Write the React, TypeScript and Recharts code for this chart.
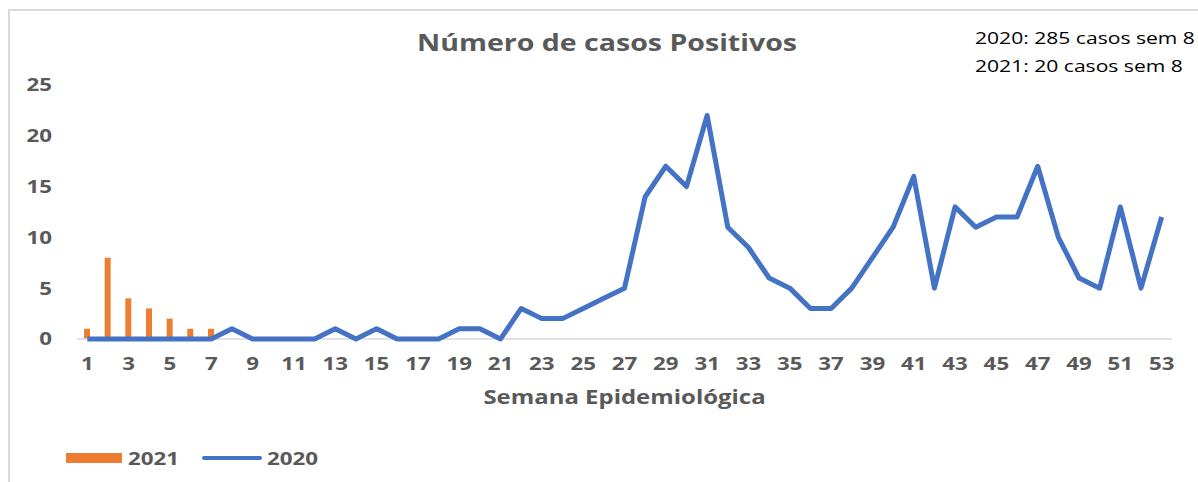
import { ComposedChart, Bar, Line, XAxis, YAxis, ReferenceLine } from 'recharts';

const weeks = [
  1, 2, 3, 4, 5, 6, 7, 8, 9, 10, 11, 12, 13, 14, 15, 16, 17, 18, 19, 20,
  21, 22, 23, 24, 25, 26, 27, 28, 29, 30, 31, 32, 33, 34, 35, 36, 37, 38, 39, 40,
  41, 42, 43, 44, 45, 46, 47, 48, 49, 50, 51, 52, 53,
];

const cases2020 = [
  0, 0, 0, 0, 0, 0, 0, 1, 0, 0, 0, 0, 1, 0, 1, 0, 0, 0, 1, 1,
  0, 3, 2, 2, 3, 4, 5, 14, 17, 15, 22, 11, 9, 6, 5, 3, 3, 5, 8, 11,
  16, 5, 13, 11, 12, 12, 17, 10, 6, 5, 13, 5, 12,
];

const cases2021 = [1, 8, 4, 3, 2, 1, 1];

const yTicks = [0, 5, 10, 15, 20, 25];

const data = weeks.map((week, i) => ({
  week,
  y2020: cases2020[i],
  y2021: i < cases2021.length ? cases2021[i] : null,
}));

const gray = '#595959';
const blue = '#4472c4';
const orange = '#ed7d31';
const font = '"Open Sans", sans-serif';
// the source picture is stretched sideways, so text is widened to match
const stretch = 1.24;

const XTick = ({ x, y, payload }: any) => (
  <text
    transform={`translate(${x},${y}) scale(${stretch},1)`}
    textAnchor="middle"
    dy="0.71em"
    fill={gray}
    fontSize={18}
    fontWeight={700}
    fontFamily={font}
  >
    {payload.value}
  </text>
);

const YTick = ({ x, y, payload }: any) => (
  <text
    transform={`translate(${x},${y}) scale(${stretch},1)`}
    textAnchor="end"
    dy="0.355em"
    fill={gray}
    fontSize={18}
    fontWeight={700}
    fontFamily={font}
  >
    {payload.value}
  </text>
);

const AxisTitle = ({ viewBox }: any) => {
  const cx = viewBox.x + viewBox.width / 2;
  const cy = viewBox.y + 54;
  return (
    <text
      transform={`translate(${cx},${cy}) scale(1.26,1)`}
      textAnchor="middle"
      dy="0.355em"
      fill={gray}
      fontSize={19}
      fontWeight={700}
      fontFamily={font}
    >
      Semana Epidemiológica
    </text>
  );
};

const wide = (origin: string) => ({
  transform: `scaleX(${stretch})`,
  transformOrigin: origin,
  whiteSpace: 'nowrap' as const,
});

export default function App() {
  return (
    <div style={{ position: 'absolute', left: 0, top: 0, width: 1198, height: 482, overflow: 'hidden', background: '#fff', fontFamily: font }}>
      {/* chart frame */}
      <div style={{ position: 'absolute', left: 8, top: 9, width: 1200, height: 480, borderLeft: '2px solid #d9d9d9', borderTop: '2px solid #d9d9d9' }} />

      <div style={{ position: 'absolute', left: 0, width: 1214, top: 26, textAlign: 'center', fontSize: 23, fontWeight: 700, color: gray, ...wide('center') }}>
        Número de casos Positivos
      </div>

      <div style={{ position: 'absolute', left: 975, top: 24, fontSize: 17, color: '#000', lineHeight: '28px', ...wide('left') }}>
        <div>2020: 285 casos sem 8</div>
        <div>2021: 20 casos sem 8</div>
      </div>

      <ComposedChart
        width={1198}
        height={482}
        data={data}
        margin={{ top: 85, right: 26, left: 17, bottom: 89 }}
        barSize={6}
      >
        <XAxis
          dataKey="week"
          interval={1}
          tickLine={false}
          tickSize={0}
          tickMargin={14}
          axisLine={false}
          tick={<XTick />}
          height={50}
          label={<AxisTitle />}
        />
        <YAxis
          domain={[-0.4, 25]}
          ticks={yTicks}
          width={60}
          axisLine={false}
          tickLine={false}
          tickSize={0}
          tickMargin={25}
          tick={<YTick />}
        />
        <ReferenceLine y={0} stroke="#d9d9d9" strokeWidth={1.5} />
        <Bar dataKey="y2021" name="2021" fill={orange} isAnimationActive={false} />
        <Line
          type="linear"
          dataKey="y2020"
          name="2020"
          stroke={blue}
          strokeWidth={5}
          dot={false}
          strokeLinejoin="round"
          isAnimationActive={false}
        />
      </ComposedChart>

      {/* legend */}
      <div style={{ position: 'absolute', left: 66, top: 453, width: 56, height: 10, background: orange }} />
      <div style={{ position: 'absolute', left: 128, top: 445, fontSize: 18, fontWeight: 700, color: gray, lineHeight: '26px', ...wide('left') }}>2021</div>
      <div style={{ position: 'absolute', left: 202, top: 456, width: 60, height: 4, borderRadius: 2, background: blue }} />
      <div style={{ position: 'absolute', left: 267, top: 445, fontSize: 18, fontWeight: 700, color: gray, lineHeight: '26px', ...wide('left') }}>2020</div>
    </div>
  );
}
